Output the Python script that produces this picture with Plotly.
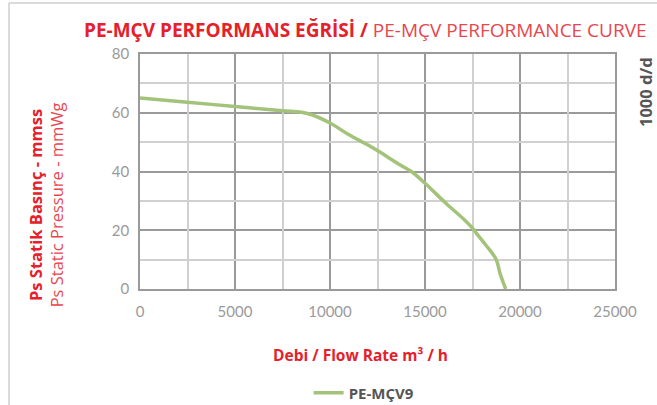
import plotly.graph_objects as go

# Data
flow_rate = [0, 2500, 5000, 7500, 8500, 9000, 10000, 11000, 12000, 12600, 13700,
             14300, 15000, 16100, 17000, 17500, 17700, 18200, 18750, 18950, 19250]
static_pressure = [65, 63.6, 62.1, 60.7, 60.2, 59.4, 56.5, 52.5, 49, 46.7, 42.2,
                   39.9, 36, 29.2, 24, 20.7, 19, 15, 10, 5.3, 0]
series_name = "PE-MÇV9"
x_ticks = [0, 5000, 10000, 15000, 20000, 25000]
y_ticks = [0, 20, 40, 60, 80]

RED = "#e5202b"
LIGHT_RED = "#e8464f"
GREEN = "#a3c27a"
FONT = "Open Sans"
TICK_FONT = "Lato"
MAJOR_GRID = "#9a9a9a"
MINOR_GRID = "#d0d0d0"

x_step = x_ticks[1] - x_ticks[0]
y_step = y_ticks[1] - y_ticks[0]

fig = go.Figure()
# invisible helper trace that carries the minor-grid overlay axes
fig.add_trace(go.Scatter(
    x=flow_rate, y=static_pressure, mode="lines", xaxis="x2", yaxis="y2",
    line=dict(color="rgba(0,0,0,0)", width=0), showlegend=False, hoverinfo="skip",
))
fig.add_trace(go.Scatter(
    x=flow_rate, y=static_pressure, mode="lines", name=f"<b>{series_name}</b>",
    line=dict(color=GREEN, width=3.5, shape="spline", smoothing=1.0),
))

tickfont = dict(family=TICK_FONT, size=15, color="#9a9a9a")

fig.update_layout(
    xaxis=dict(
        range=[x_ticks[0], x_ticks[-1]], tickmode="linear", tick0=x_ticks[0], dtick=x_step,
        tickformat="d", showgrid=True, gridcolor=MAJOR_GRID, gridwidth=1.5,
        showline=True, linecolor="#9a9a9a", linewidth=1.5, mirror=True,
        zeroline=False, ticks="", ticklabelstandoff=8, tickfont=tickfont,
    ),
    yaxis=dict(
        range=[y_ticks[0], y_ticks[-1]], tickmode="linear", tick0=y_ticks[0], dtick=y_step,
        tickformat="d", showgrid=True, gridcolor=MAJOR_GRID, gridwidth=1.5,
        showline=True, linecolor="#9a9a9a", linewidth=1.5, mirror=True,
        zeroline=False, ticks="", ticklabelstandoff=6, tickfont=tickfont,
    ),
    xaxis2=dict(
        overlaying="x", anchor="y2", range=[x_ticks[0], x_ticks[-1]], tickmode="linear",
        tick0=x_ticks[0] + x_step / 2, dtick=x_step, showgrid=True, gridcolor=MINOR_GRID,
        gridwidth=1.5, showticklabels=False, zeroline=False, showline=False, ticks="",
    ),
    yaxis2=dict(
        overlaying="y", anchor="x2", range=[y_ticks[0], y_ticks[-1]], tickmode="linear",
        tick0=y_ticks[0] + y_step / 2, dtick=y_step, showgrid=True, gridcolor=MINOR_GRID,
        gridwidth=1.5, showticklabels=False, zeroline=False, showline=False, ticks="",
    ),
)

annotations = [
    dict(text=(f"<b>PE-MÇV PERFORMANS EĞRİSİ /</b>"
               f"<span style='color:{LIGHT_RED}'> PE-MÇV PERFORMANCE CURVE</span>"),
         xref="paper", yref="paper", x=-0.122, y=1.102, xanchor="left", yanchor="middle",
         showarrow=False, font=dict(family=FONT, size=19, color=RED)),
    dict(text=(f"<b>Ps Statik Basınç - mmss</b><br>"
               f"<span style='color:{LIGHT_RED}'>Ps Static Pressure - mmWg</span>"),
         xref="paper", yref="paper", x=-0.198, y=0.36, xanchor="center", yanchor="middle",
         textangle=-90, showarrow=False, font=dict(family=FONT, size=16.5, color=RED)),
    dict(text="<b>Debi / Flow Rate m³ / h</b>",
         xref="paper", yref="paper", x=0.465, y=-0.281, xanchor="center", yanchor="middle",
         showarrow=False, font=dict(family=FONT, size=15.5, color=RED)),
    dict(text="<b>1000 d/d</b>",
         xref="paper", yref="paper", x=1.063, y=0.838, xanchor="center", yanchor="middle",
         textangle=-90, showarrow=False, font=dict(family=FONT, size=16.5, color="#555555")),
]

W, H = 657, 405
L, R, T, B = 140, 42, 54, 116
pw, ph = W - L - R, H - T - B


def px_to_paper_x(px):
    return (px - L) / pw


def px_to_paper_y(py):
    return (H - B - py) / ph


shapes = [
    dict(type="line", xref="paper", yref="paper",
         x0=px_to_paper_x(9), x1=px_to_paper_x(9), y0=px_to_paper_y(3), y1=px_to_paper_y(405),
         line=dict(color="#cfcfcf", width=1.5)),
    dict(type="line", xref="paper", yref="paper",
         x0=px_to_paper_x(9), x1=px_to_paper_x(657), y0=px_to_paper_y(3), y1=px_to_paper_y(3),
         line=dict(color="#cfcfcf", width=1.5)),
]

fig.update_layout(
    width=W, height=H,
    margin=dict(l=L, r=R, t=T, b=B, autoexpand=False),
    paper_bgcolor="white", plot_bgcolor="white",
    annotations=annotations, shapes=shapes,
    showlegend=True,
    legend=dict(orientation="h", x=0.355, y=-0.443, xanchor="left", yanchor="middle",
                font=dict(family=FONT, size=15, color="#555555"),
                bgcolor="rgba(0,0,0,0)"),
)

fig.write_html(
    "out.html",
    config={"displayModeBar": False},
    post_script="document.body.style.margin='0';document.body.style.overflow='hidden';",
)
